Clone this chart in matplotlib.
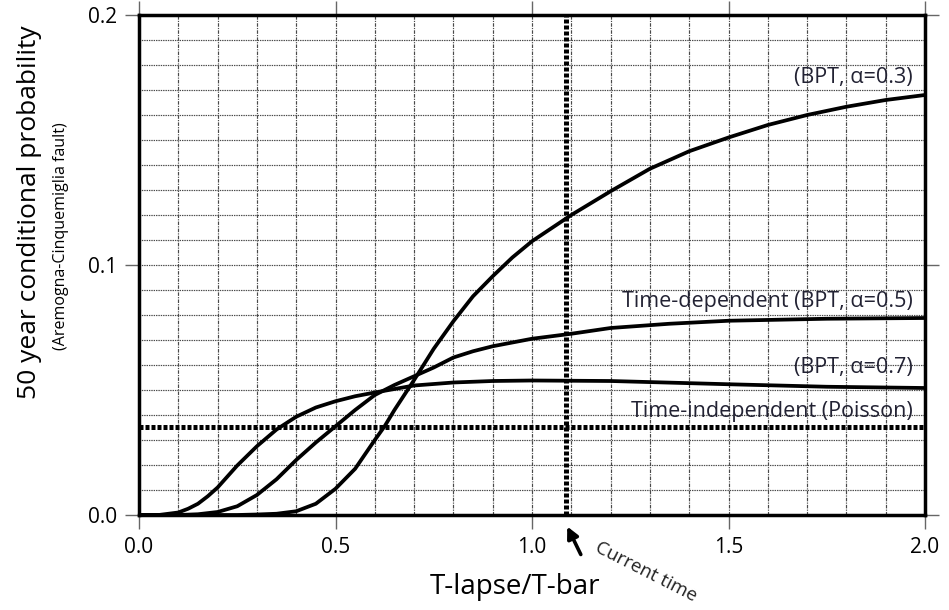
import matplotlib
matplotlib.use("Agg")
import matplotlib.pyplot as plt
from matplotlib.ticker import MultipleLocator

plt.rcParams['font.family'] = ['Open Sans', 'DejaVu Sans']

# ---- data ----
x_a3 = [0.0, 0.2, 0.25, 0.3, 0.35, 0.4, 0.45, 0.5, 0.55, 0.6, 0.625, 0.65, 0.7, 0.75, 0.8,
        0.85, 0.9, 0.95, 1.0, 1.1, 1.2, 1.3, 1.4, 1.5, 1.6, 1.7, 1.8, 1.9, 2.0]
y_a3 = [0.0, 0.0, 0.0, 0.0002, 0.0005, 0.0015, 0.0045, 0.0105, 0.0185, 0.030, 0.0355, 0.042,
        0.054, 0.0665, 0.0775, 0.0875, 0.0955, 0.103, 0.1095, 0.120, 0.1295, 0.1385, 0.1455,
        0.151, 0.156, 0.160, 0.1633, 0.166, 0.168]

x_a5 = [0.0, 0.1, 0.15, 0.2, 0.25, 0.3, 0.35, 0.4, 0.45, 0.5, 0.55, 0.6, 0.65, 0.7, 0.75,
        0.8, 0.85, 0.9, 1.0, 1.1, 1.2, 1.35, 1.5, 1.75, 2.0]
y_a5 = [0.0, 0.0, 0.0003, 0.0012, 0.0035, 0.008, 0.0143, 0.022, 0.029, 0.0355, 0.042, 0.048,
        0.052, 0.0555, 0.059, 0.063, 0.0655, 0.0675, 0.0705, 0.0725, 0.0748, 0.0765, 0.0777,
        0.0785, 0.0788]

x_a7 = [0.0, 0.05, 0.1, 0.125, 0.15, 0.175, 0.2, 0.25, 0.3, 0.35, 0.4, 0.45, 0.5, 0.55, 0.6,
        0.7, 0.8, 0.9, 1.0, 1.2, 1.5, 1.75, 2.0]
y_a7 = [0.0, 0.0, 0.001, 0.0025, 0.0045, 0.0075, 0.011, 0.0198, 0.0275, 0.0342, 0.0393, 0.043,
        0.0455, 0.0475, 0.049, 0.0518, 0.053, 0.0536, 0.0538, 0.0536, 0.0523, 0.0513, 0.0508]

poisson_p = 0.0353
current_time = 1.087

labels = ["(BPT, \u03b1=0.3)", "Time-dependent (BPT, \u03b1=0.5)",
          "(BPT, \u03b1=0.7)", "Time-independent (Poisson)"]
label_y = [0.1748, 0.0852, 0.0588, 0.0412]

xticks = [0.0, 0.5, 1.0, 1.5, 2.0]
yticks = [0.0, 0.1, 0.2]

# ---- figure ----
fig = plt.figure(figsize=(9.49, 6.10), dpi=100)
ax = fig.add_axes([139/949, 95/610, (925-139)/949, (515-15)/610])
ax.set_xlim(0, 2)
ax.set_ylim(0, 0.2)

# grid
ax.xaxis.set_minor_locator(MultipleLocator(0.1))
ax.yaxis.set_minor_locator(MultipleLocator(0.01))
ax.grid(which='both', axis='x', color='#4a4a4a', linestyle=(0, (3, 1, 1, 1)), linewidth=0.85)
ax.grid(which='both', axis='y', color='#4a4a4a', linestyle=(0, (1.2, 0.8)), linewidth=0.85)
ax.set_axisbelow(True)

# reference lines
ax.axhline(poisson_p, color='black', linewidth=3.6, linestyle=(0, (0.8, 0.4)), zorder=3)
ax.axvline(current_time, color='black', linewidth=3.6, linestyle=(0, (0.8, 0.4)), zorder=3)

# curves
for xs, ys in [(x_a3, y_a3), (x_a5, y_a5), (x_a7, y_a7)]:
    ax.plot(xs, ys, color='black', linewidth=2.7, solid_joinstyle='round',
            solid_capstyle='butt', zorder=4)

# labels on curves
for t, yy in zip(labels, label_y):
    ax.text(1.969, yy, t, ha='right', va='center', fontsize=15.5, color='#222233', zorder=5)

# ticks
ax.set_xticks(xticks)
ax.set_yticks(yticks)
ax.set_xticklabels([f"{v:.1f}" for v in xticks])
ax.set_yticklabels([f"{v:.1f}" for v in yticks])
ax.tick_params(which='major', direction='out', length=10, width=1.0, color='#666666',
               top=True, right=True, labelsize=15, pad=6)
ax.tick_params(which='minor', length=0)

for s in ax.spines.values():
    s.set_linewidth(2.5)
    s.set_color('black')

# axis labels
fig.text(30/949, 1 - 212/610, "50 year conditional probability", rotation=90,
         ha='center', va='center', fontsize=19)
fig.text(61/949, 1 - 236/610, "(Aremogna-Cinquemiglia fault)", rotation=90,
         ha='center', va='center', fontsize=11.5)
fig.text(515/949, 1 - 587/610, "T-lapse/T-bar", ha='center', va='center', fontsize=20)

# current time arrow and text
ax.annotate("", xy=(566, 610 - 524), xytext=(582, 610 - 557),
            xycoords='figure pixels', textcoords='figure pixels',
            arrowprops=dict(arrowstyle='-|>', color='black', lw=2.6, mutation_scale=17),
            annotation_clip=False)
fig.text(646/949, 1 - 572/610, "Current time", rotation=-27, ha='center', va='center',
         fontsize=13.5, color='#222222', rotation_mode='anchor')

fig.savefig("out.png", dpi=100)
